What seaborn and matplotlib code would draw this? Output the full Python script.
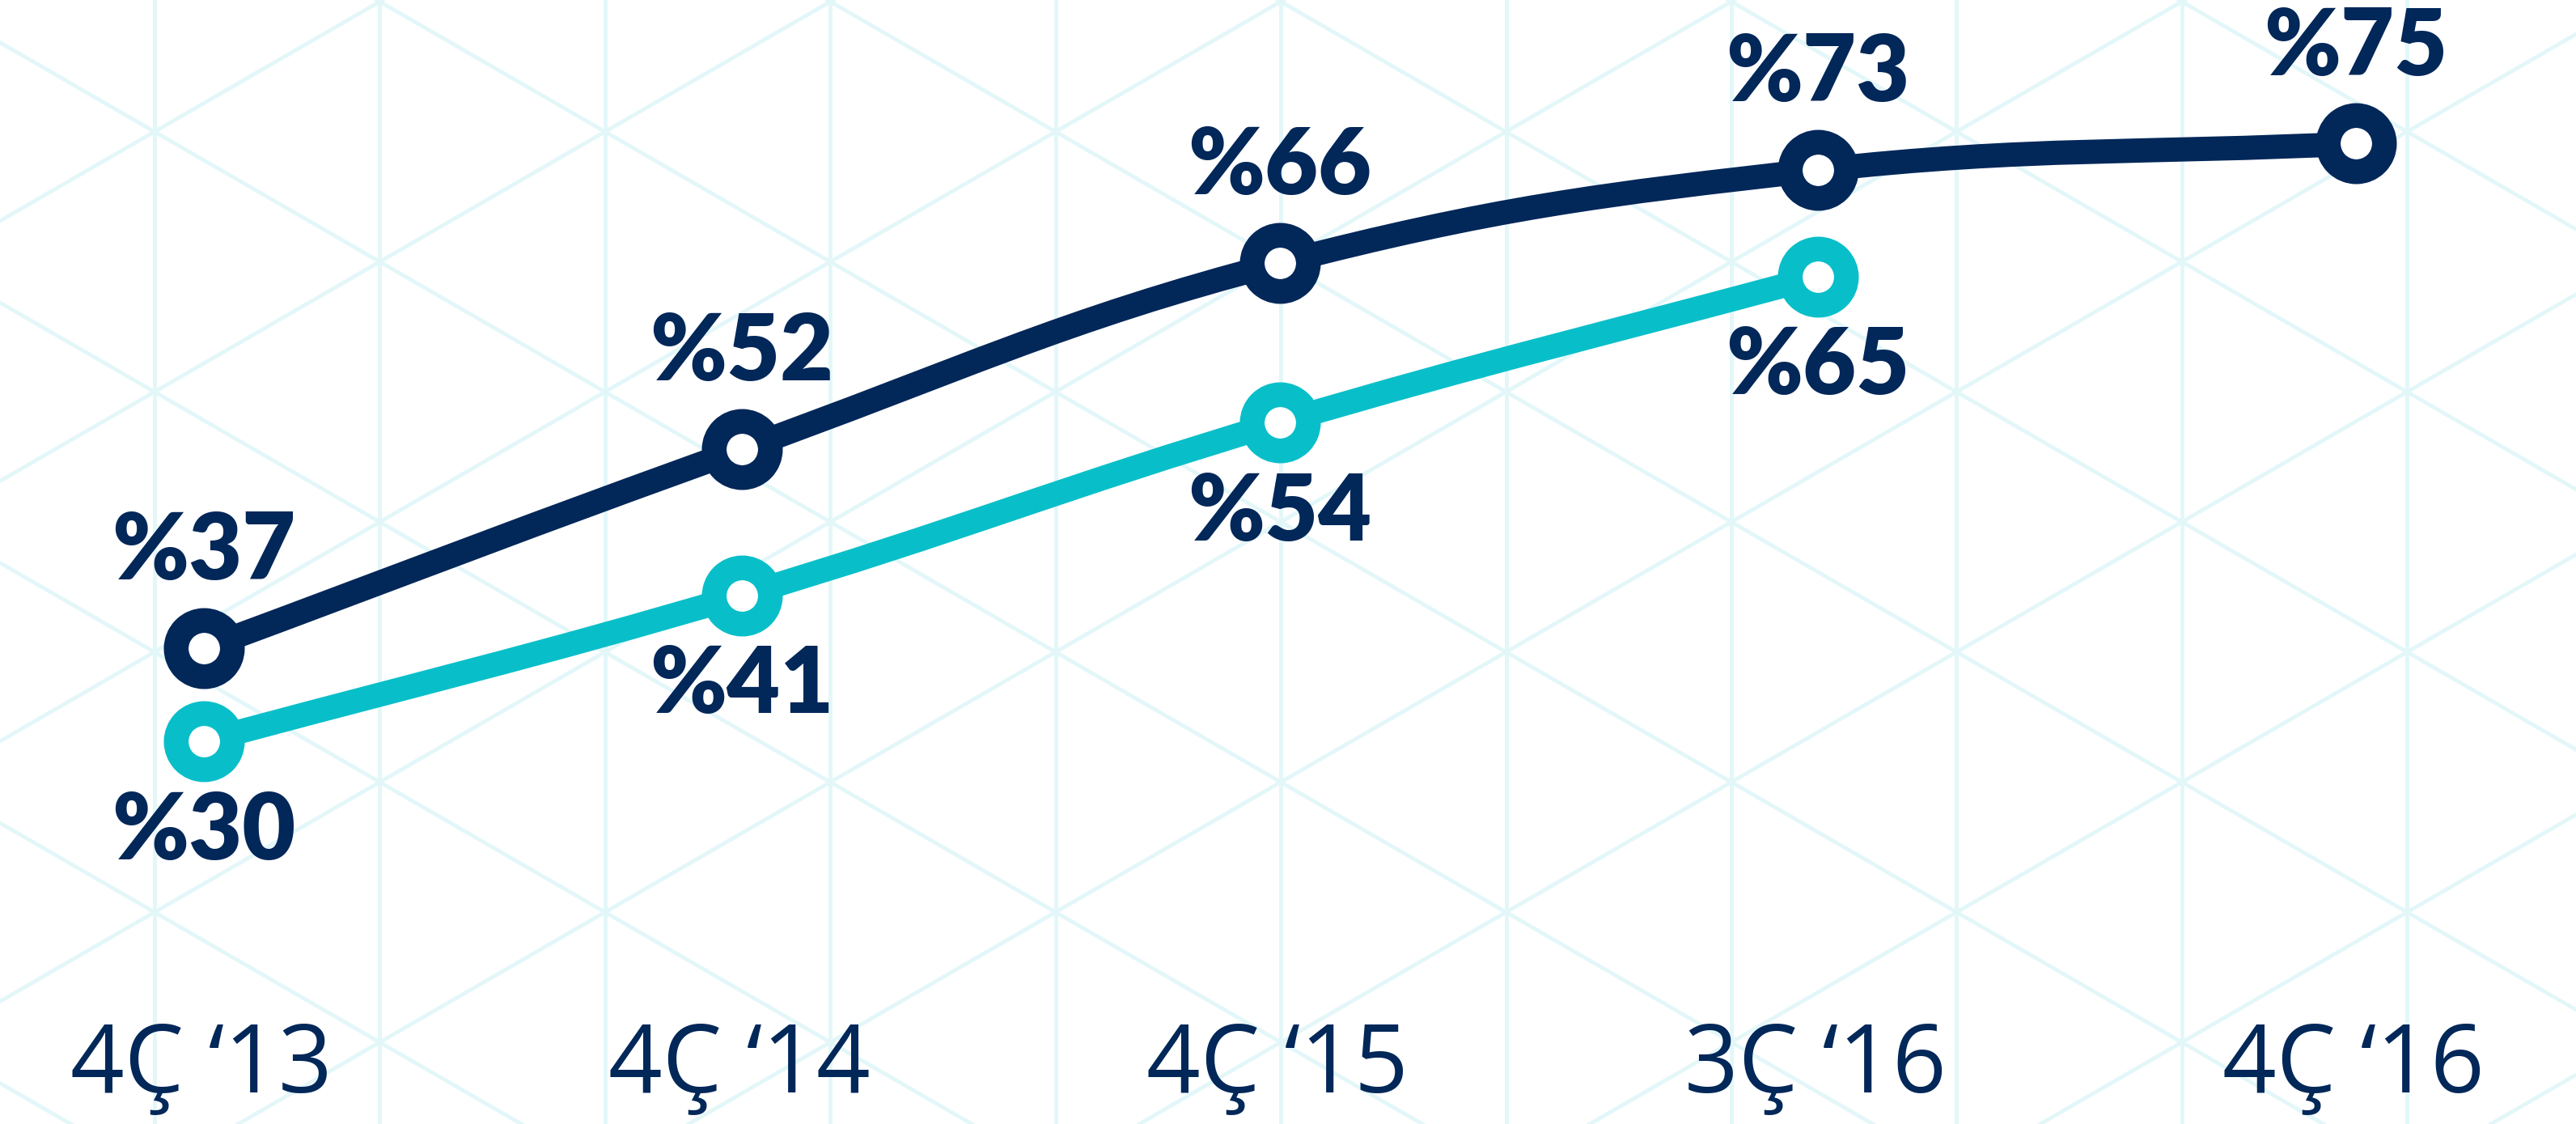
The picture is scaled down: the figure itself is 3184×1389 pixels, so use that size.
import numpy as np
import pandas as pd
import matplotlib
matplotlib.use("Agg")
import matplotlib.pyplot as plt
from matplotlib.path import Path
from matplotlib.patches import PathPatch
import seaborn as sns

# data
quarters = ["4Ç ‘13", "4Ç ‘14", "4Ç ‘15", "3Ç ‘16", "4Ç ‘16"]
dark_values = [37, 52, 66, 73, 75]
cyan_values = [30, 41, 54, 65]

NAVY = "#022759"
CYAN = "#08BFC9"
GRID = "#E3F7F9"

W, H, DPI = 3184, 1389, 100

sns.set_theme(style="white")
plt.rcParams["font.family"] = ["Lato", "DejaVu Sans"]

fig = plt.figure(figsize=(W / DPI, H / DPI), dpi=DPI)

# background triangle lattice, in pixel coords
bg = fig.add_axes([0, 0, 1, 1])
bg.set_xlim(0, W)
bg.set_ylim(H, 0)
bg.axis("off")
side = 321.5
dx = side * np.sqrt(3) / 2
t = np.tan(np.radians(30))
for k in range(-2, 14):
    bg.axvline(191 + dx * k, color=GRID, lw=3.5, zorder=0)
xs = np.array([0, W])
for k in range(-12, 12):
    bg.plot(xs, t * xs + 52.5 + side * k, color=GRID, lw=3.5, zorder=0)
    bg.plot(xs, -t * xs + 273.0 + side * k, color=GRID, lw=3.5, zorder=0)

ax = fig.add_axes([0, 0, 1, 1])
ax.patch.set_alpha(0)
ax.set_xlim(-0.379, 4.409)
ax.set_ylim(1.2, 85.8)


def smooth_path(xv, yv, tension=0.4):
    # bezier through the points, control points like chart.js (pixel space)
    pts = ax.transData.transform(np.column_stack([xv, yv]))
    n = len(pts)
    verts = [pts[0]]
    codes = [Path.MOVETO]
    cps = []
    for i in range(n):
        prev = pts[max(i - 1, 0)]
        nxt = pts[min(i + 1, n - 1)]
        d01 = np.hypot(*(pts[i] - prev))
        d12 = np.hypot(*(nxt - pts[i]))
        s = d01 + d12 if d01 + d12 > 0 else 1
        cps.append((pts[i] - tension * d01 / s * (nxt - prev),
                    pts[i] + tension * d12 / s * (nxt - prev)))
    for i in range(1, n):
        verts += [cps[i - 1][1], cps[i][0], pts[i]]
        codes += [Path.CURVE4] * 3
    verts = ax.transData.inverted().transform(np.array(verts))
    return Path(verts, codes)


dark = pd.DataFrame({"quarter": quarters, "value": dark_values})
cyan = pd.DataFrame({"quarter": quarters[:len(cyan_values)], "value": cyan_values})

for df, col in [(dark, NAVY), (cyan, CYAN)]:
    sns.lineplot(data=df, x="quarter", y="value", ax=ax, color=col, ls="none",
                 marker="o", markersize=50, markerfacecolor="white",
                 markeredgecolor=col, markeredgewidth=22, sort=False,
                 zorder=4)
    ax.set_xlim(-0.379, 4.409)
    ax.set_ylim(1.2, 85.8)
    ax.add_patch(PathPatch(smooth_path(np.arange(len(df)), df["value"].values),
                           fill=False, edgecolor=col, lw=21.6, zorder=3))

ax.axis("off")

for q, v in zip(quarters, dark_values):
    ax.annotate(f"%{v}", (q, v), xytext=(0, 61), textcoords="offset points",
                ha="center", va="baseline", fontsize=82, fontweight="heavy",
                color=NAVY, zorder=5)
for q, v in zip(quarters, cyan_values):
    ax.annotate(f"%{v}", (q, v), xytext=(0, -105), textcoords="offset points",
                ha="center", va="baseline", fontsize=82, fontweight="heavy",
                color=NAVY, zorder=5)

trans = ax.get_xaxis_transform()
for i, q in enumerate(quarters):
    ax.text(i - 0.005, 0.028, q, transform=trans, ha="center", va="baseline",
            fontsize=84, color=NAVY, family=["Open Sans", "DejaVu Sans"])

fig.savefig("out.png", dpi=DPI)
